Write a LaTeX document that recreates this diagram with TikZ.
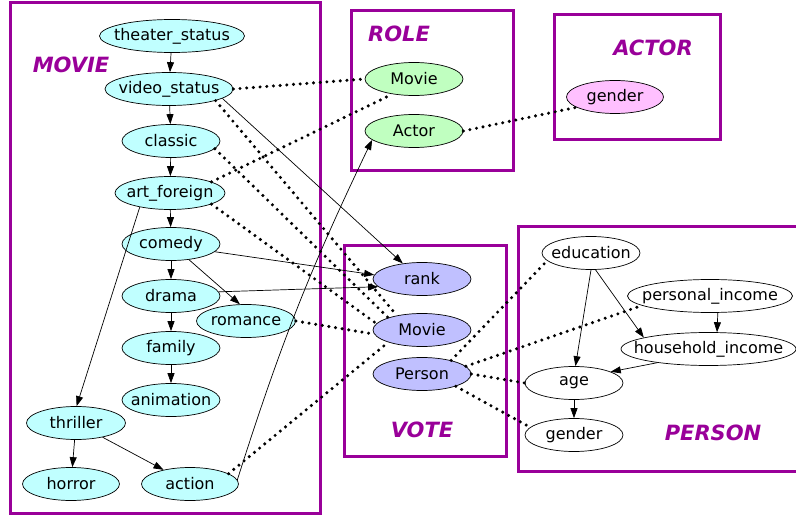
\documentclass[tikz,border=0pt]{standalone}
\usepackage{fontspec}
\setmainfont{DejaVu Sans}
\usetikzlibrary{shapes.geometric,arrows.meta}
\definecolor{purp}{HTML}{990099}
\definecolor{cyanfill}{HTML}{C0FFFF}
\definecolor{greenfill}{HTML}{C0FFC0}
\definecolor{pinkfill}{HTML}{FFC0FF}
\definecolor{lavfill}{HTML}{C0C0FF}
\newcommand{\zw}[1]{\makebox[0pt]{#1}}
\tikzset{
  attr/.style={ellipse, draw, line width=0.7pt, inner sep=0pt, minimum height=33pt,
    font=\fontsize{16}{19}\selectfont},
  mov/.style={attr, fill=cyanfill},
  rol/.style={attr, fill=greenfill},
  act/.style={attr, fill=pinkfill},
  vot/.style={attr, fill=lavfill},
  per/.style={attr, fill=white},
  dotline/.style={line width=3.4pt, line cap=round, dash pattern=on 0pt off 6.7pt},
  arr/.style={-{Triangle[length=10pt,width=7pt]}, line width=0.7pt},
  frame/.style={draw=purp, line width=3pt},
  title/.style={text=purp, font=\fontsize{21}{25}\selectfont\bfseries\itshape}
}
\begin{document}
\begin{tikzpicture}[x=1pt,y=-1pt]
\useasboundingbox (0,0) rectangle (796,516);
% frames
\draw[frame] (10,3) rectangle (320,513);
\draw[frame] (351,11) rectangle (513,171);
\draw[frame] (554,15) rectangle (720,140);
\draw[frame] (344,246) rectangle (506,456);
\draw[frame] (796,227) -- (518,227) -- (518,471) -- (796,471);
% titles
\node[title] (tmovie) at (71,65) {MOVIE};
\node[title] (trole) at (399,34) {ROLE};
\node[title] (tactor) at (653,48) {ACTOR};
\node[title] (tvote) at (422,430) {VOTE};
\node[title] (tperson) at (713,433) {PERSON};
% MOVIE
\node[mov, minimum width=145pt] (ts) at (172,36) {\zw{theater\_status}};
\node[mov, minimum width=128pt] (vs) at (169,89) {\zw{video\_status}};
\node[mov, minimum width=98pt] (cl) at (171,141) {\zw{classic}};
\node[mov, minimum width=110pt] (af) at (170,193) {\zw{art\_foreign}};
\node[mov, minimum width=98pt] (co) at (171,244) {\zw{comedy}};
\node[mov, minimum width=98pt] (dr) at (171,296) {\zw{drama}};
\node[mov, minimum width=99pt] (ro) at (246,321) {\zw{romance}};
\node[mov, minimum width=98pt] (fa) at (171,348) {\zw{family}};
\node[mov, minimum width=98pt] (an) at (171,400) {\zw{animation}};
\node[mov, minimum width=99pt] (th) at (76,423) {\zw{thriller}};
\node[mov, minimum width=97pt] (ho) at (71,484) {\zw{horror}};
\node[mov, minimum width=97pt] (ac) at (190,484) {\zw{action}};
% ROLE
\node[rol, minimum width=98pt] (rmovie) at (414,79) {\zw{Movie}};
\node[rol, minimum width=98pt] (ractor) at (414,131) {\zw{Actor}};
% ACTOR
\node[act, minimum width=97pt] (agender) at (615,97) {\zw{gender}};
% VOTE
\node[vot, minimum width=98pt] (rank) at (422,279) {\zw{rank}};
\node[vot, minimum width=98pt] (vmovie) at (422,330) {\zw{Movie}};
\node[vot, minimum width=98pt] (vperson) at (422,374) {\zw{Person}};
% PERSON
\node[per, minimum width=98pt] (edu) at (591,253) {\zw{education}};
\node[per, minimum width=165pt] (pi) at (710,296) {\zw{personal\_income}};
\node[per, minimum width=175pt] (hh) at (708.5,349) {\zw{household\_income}};
\node[per, minimum width=98pt] (age) at (574,383) {\zw{age}};
\node[per, minimum width=98pt] (pgender) at (574,435) {\zw{gender}};
% solid arrows in MOVIE
\draw[arr] (ts) -- (vs);
\draw[arr] (vs) -- (cl);
\draw[arr] (cl) -- (af);
\draw[arr] (af) -- (co);
\draw[arr] (co) -- (dr);
\draw[arr] (dr) -- (fa);
\draw[arr] (fa) -- (an);
\draw[arr] (co) -- (ro.110);
\draw[arr] (af.205) -- (th.88);
\draw[arr] (th) -- (ho);
\draw[arr] (th) -- (ac);
\draw[arr] (vs.-10) -- (rank.141);
\draw[arr] (co.-10) -- (rank.175);
\draw[arr] (dr.5) -- (rank.190);
\draw[arr] (ac.5) to[bend left=4] (ractor.192);
% PERSON arrows
\draw[arr] (edu.south) -- (age.85);
\draw[arr] (edu.-75) -- (hh.170);
\draw[arr] (pi.-65) -- (hh.63);
\draw[arr] (hh.195) -- (age.17);
\draw[arr] (age) -- (pgender);
% dotted links
\draw[dotline] (vs.east) -- (rmovie.west);
\draw[dotline] (af.15) -- (rmovie.215);
\draw[dotline] (vs.-14) -- (vmovie.150);
\draw[dotline] (cl.-10) -- (vmovie.160);
\draw[dotline] (af.-15) -- (vmovie.172);
\draw[dotline] (ro.east) -- (vmovie.185);
\draw[dotline] (ac.15) -- (vmovie.200);
\draw[dotline] (ractor.east) -- (agender.195);
\draw[dotline] (vperson.25) -- (edu.190);
\draw[dotline] (vperson.10) -- (pi.188);
\draw[dotline] (vperson.east) -- (age.west);
\draw[dotline] (vperson.-20) -- (pgender.170);
\end{tikzpicture}
\end{document}
